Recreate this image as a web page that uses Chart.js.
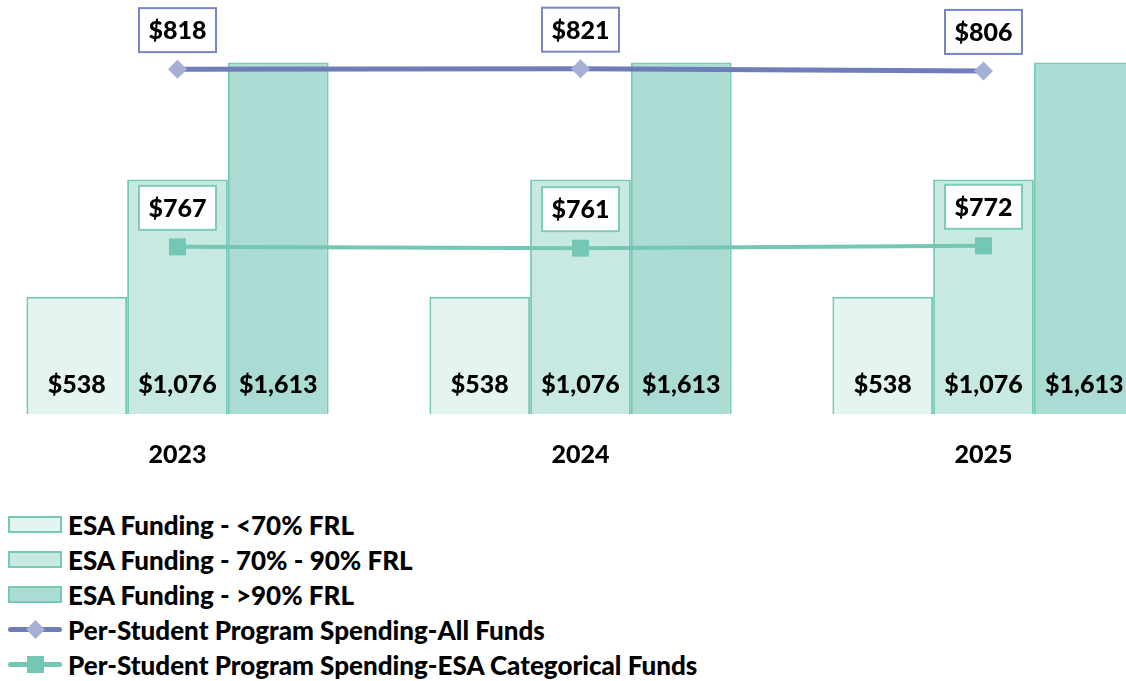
<!DOCTYPE html>
<html>
<head>
<meta charset="utf-8">
<script src="https://cdn.jsdelivr.net/npm/chart.js@4/dist/chart.umd.min.js"></script>
<style>
  html, body { margin: 0; padding: 0; background: #fff; }
  body { width: 1126px; height: 681px; overflow: hidden; position: relative; font-family: Lato, sans-serif; }
  .chart-wrap { position: absolute; left: -24px; top: 0; width: 1209px; height: 496px; }
  .legend { position: absolute; left: 8px; top: 507px; }
  .legend-row { height: 35px; display: flex; align-items: center; font-weight: 900; font-size: 26px; color: #000; }
  .sym { width: 54px; height: 17px; margin-right: 6px; position: relative; box-sizing: border-box; flex: none; }
  .sym .ln { position: absolute; left: 0; right: 0; top: 6px; height: 5px; border-radius: 3px; }
  .sym .mk { position: absolute; left: 19px; top: 0; width: 17px; height: 17px; }
</style>
</head>
<body>
<div class="chart-wrap"><canvas class="js-chart"></canvas></div>
<div class="legend js-legend"></div>
<script>
const years = ['2023', '2024', '2025'];
const fundingBelow70 = [538, 538, 538];
const funding70to90 = [1076, 1076, 1076];
const fundingAbove90 = [1613, 1613, 1613];
const spendingAllFunds = [818, 821, 806];
const spendingEsaFunds = [767, 761, 772];

const barBorder = '#76c9b6';

const money = (v) => '$' + v.toLocaleString('en-US');

// boxed labels above line points, plain labels at the foot of bars
const valueLabels = {
  id: 'valueLabels',
  afterDatasetsDraw(chart) {
    const { ctx } = chart;
    ctx.save();
    ctx.font = '900 25px Lato';
    ctx.textAlign = 'center';
    ctx.textBaseline = 'middle';
    chart.data.datasets.forEach((ds, i) => {
      const meta = chart.getDatasetMeta(i);
      meta.data.forEach((el, j) => {
        const text = money(ds.data[j]);
        if (ds.type === 'line') {
          const w = 77;
          const h = 44;
          const cy = el.y - 39;
          ctx.fillStyle = '#fff';
          ctx.fillRect(el.x - w / 2, cy - h / 2, w, h);
          ctx.lineWidth = 2;
          ctx.strokeStyle = ds.labelBorder;
          ctx.strokeRect(el.x - w / 2, cy - h / 2, w, h);
          ctx.fillStyle = '#000';
          ctx.fillText(text, el.x, cy + 1);
        } else {
          ctx.fillStyle = '#000';
          ctx.fillText(text, el.x, el.base - 29);
        }
      });
    });
    ctx.restore();
  },
};

const ctx = document.querySelector('.js-chart').getContext('2d');

const chart = new Chart(ctx, {
  data: {
    labels: years,
    datasets: [
      {
        type: 'line',
        label: 'Per-Student Program Spending-All Funds',
        data: spendingAllFunds,
        yAxisID: 'y2',
        borderColor: '#6f7eb9',
        borderWidth: 5,
        pointStyle: 'rectRot',
        pointRadius: 9.5,
        pointBackgroundColor: '#a6b0d7',
        pointBorderWidth: 0,
        labelBorder: '#7986c3',
        order: 1,
      },
      {
        type: 'line',
        label: 'Per-Student Program Spending-ESA Categorical Funds',
        data: spendingEsaFunds,
        yAxisID: 'y',
        borderColor: '#74c7b5',
        borderWidth: 4,
        pointStyle: 'rect',
        pointRadius: 12,
        pointBackgroundColor: '#74c7b5',
        pointBorderWidth: 0,
        labelBorder: '#7fcab9',
        order: 1,
      },
      {
        type: 'bar',
        label: 'ESA Funding - <70% FRL',
        data: fundingBelow70,
        backgroundColor: '#e4f4f0',
        borderColor: barBorder,
        borderWidth: 2,
        order: 2,
      },
      {
        type: 'bar',
        label: 'ESA Funding - 70% - 90% FRL',
        data: funding70to90,
        backgroundColor: '#c8e9e1',
        borderColor: barBorder,
        borderWidth: 2,
        order: 2,
      },
      {
        type: 'bar',
        label: 'ESA Funding - >90% FRL',
        data: fundingAbove90,
        backgroundColor: '#aadcd4',
        borderColor: barBorder,
        borderWidth: 2,
        order: 2,
      },
    ],
  },
  plugins: [valueLabels],
  options: {
    responsive: true,
    maintainAspectRatio: false,
    animation: false,
    layout: { padding: 0, autoPadding: false },
    datasets: {
      bar: { categoryPercentage: 0.75, barPercentage: 1 },
    },
    plugins: {
      legend: { display: false },
      tooltip: { enabled: false },
    },
    scales: {
      x: {
        grid: { display: false, drawTicks: false },
        border: { display: false },
        ticks: {
          padding: 26,
          color: '#000',
          font: { family: 'Lato', size: 25, weight: '900' },
        },
      },
      y: { display: false, min: 0, max: 1900 },
      y2: { display: false, min: -1477, max: 1278 },
    },
  },
});

// legend drawn as html rows, built from the datasets
const legendOrder = [2, 3, 4, 0, 1];
const legendEl = document.querySelector('.js-legend');
legendOrder.forEach((i) => {
  const ds = chart.data.datasets[i];
  const row = document.createElement('div');
  row.className = 'legend-row';
  const sym = document.createElement('div');
  sym.className = 'sym';
  if (ds.type === 'bar') {
    sym.style.background = ds.backgroundColor;
    sym.style.border = '2px solid ' + ds.borderColor;
  } else {
    const ln = document.createElement('div');
    ln.className = 'ln';
    ln.style.background = ds.borderColor;
    sym.appendChild(ln);
    const mk = document.createElement('div');
    mk.className = 'mk';
    mk.style.background = ds.pointBackgroundColor;
    if (ds.pointStyle === 'rectRot') {
      mk.style.transform = 'rotate(45deg) scale(0.78)';
    }
    sym.appendChild(mk);
  }
  row.appendChild(sym);
  const txt = document.createElement('span');
  txt.textContent = ds.label;
  row.appendChild(txt);
  legendEl.appendChild(row);
});
</script>
</body>
</html>
